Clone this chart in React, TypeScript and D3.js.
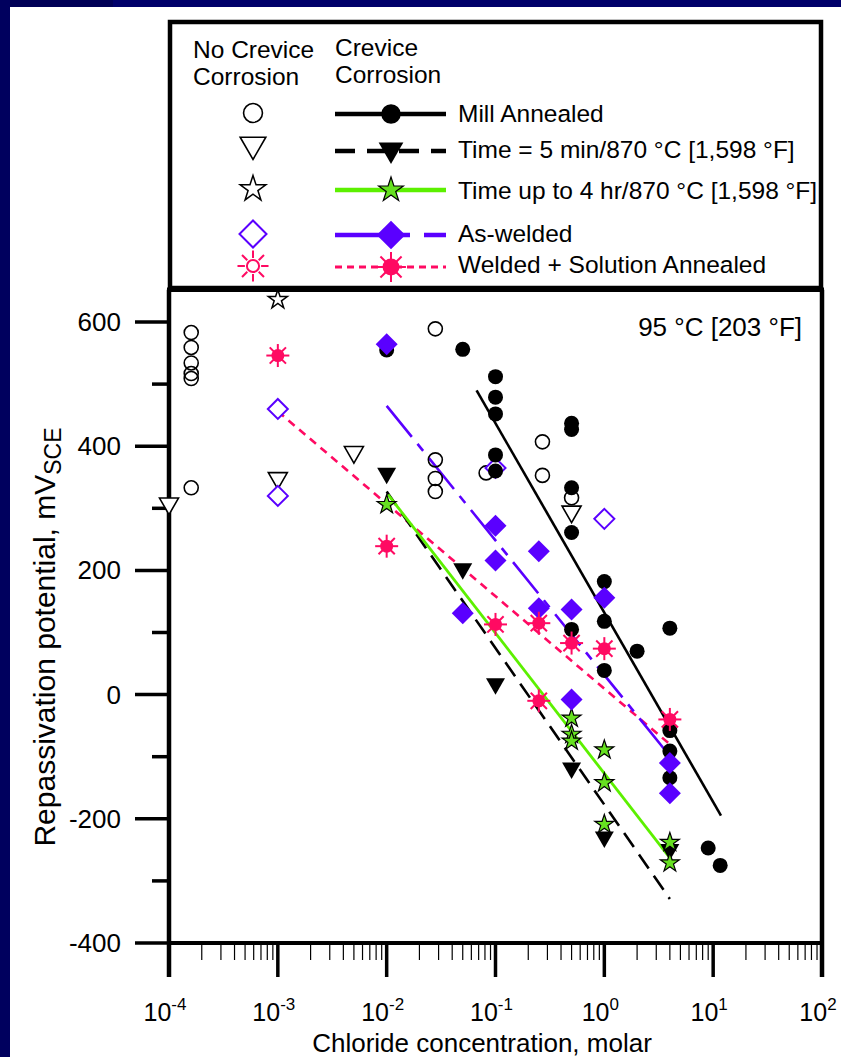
import React from "react";
import * as d3 from "d3";

// Repassivation potential vs chloride concentration, 95 °C
type Pt = [number, number];

const xTickExponents = [-4, -3, -2, -1, 0, 1, 2];
const yTickValues = [-400, -200, 0, 200, 400, 600];
const yMinorValues = [-300, -100, 100, 300, 500];

// No crevice corrosion (open symbols)
const millOpen: Pt[] = [
  [1.6e-4, 583], [1.6e-4, 559], [1.6e-4, 534], [1.6e-4, 517], [1.6e-4, 509], [1.6e-4, 333],
  [0.028, 589], [0.028, 378], [0.028, 348], [0.028, 327],
  [0.082, 357], [0.27, 407], [0.27, 353], [0.5, 317],
];
const fiveMinOpen: Pt[] = [[1e-4, 306], [1e-3, 347], [0.005, 389], [0.5, 293]];
const fourHrOpen: Pt[] = [[1e-3, 636]];
const asWeldedOpen: Pt[] = [[1e-3, 460], [1e-3, 320], [0.1, 365], [1, 283]];

// Crevice corrosion (filled symbols)
const millFilled: Pt[] = [
  [0.01, 555], [0.05, 556],
  [0.1, 512], [0.1, 479], [0.1, 452], [0.1, 386], [0.1, 360],
  [0.5, 437], [0.5, 427], [0.5, 333], [0.5, 261], [0.5, 105],
  [1, 182], [1, 118], [1, 39], [2, 70],
  [4, 107], [4, -58], [4, -91], [4, -134],
  [9, -247], [11.6, -275],
];
const fiveMinFilled: Pt[] = [[0.01, 355], [0.05, 201], [0.1, 16], [0.5, -120], [1, -231], [4, -251]];
const fourHrFilled: Pt[] = [
  [0.01, 306], [0.5, -38], [0.5, -64], [0.5, -75],
  [1, -89], [1, -142], [1, -209], [4, -238], [4, -271],
];
const asWeldedFilled: Pt[] = [
  [0.01, 564], [0.05, 131], [0.1, 272], [0.1, 216], [0.25, 231], [0.25, 139],
  [0.5, 137], [0.5, -8], [1, 156], [4, -110], [4, -159],
];
const solnFilled: Pt[] = [
  [1e-3, 546], [0.01, 239], [0.1, 113], [0.25, 115], [0.25, -10], [0.5, 83], [1, 74], [4, -40],
];

// Regression lines
const millFit: Pt[] = [[0.067, 490], [11.8, -195]];
const fiveMinFit: Pt[] = [[0.01, 327], [4, -329]];
const fourHrFit: Pt[] = [[0.0103, 322], [4, -263]];
const asWeldedFit: Pt[] = [[0.01, 465], [4, -99]];
const solnFit: Pt[] = [[1e-3, 456], [4, -80]];

const legendLabels = [
  "Mill Annealed",
  "Time = 5 min/870 °C [1,598 °F]",
  "Time up to 4 hr/870 °C [1,598 °F]",
  "As-welded",
  "Welded + Solution Annealed",
];

const PURPLE = "#5a00ff";
const PINK = "#ff0a62";
const GREEN_LINE = "#5cf000";
const GREEN_FILL = "#66e020";
const NAVY = "#00006a";
const FONT = "'Liberation Sans', Arial, Helvetica, sans-serif";

const W = 841;
const H = 1057;
const left = 169;
const right = 822;

const x = d3.scaleLog().domain([1e-4, 1e2]).range([left, right]);
const y = d3.scaleLinear().domain([-400, 600]).range([943, 322]);
const plotTop = y(652);
const plotBottom = y(-400);

const starPath = (r: number) => d3.symbol(d3.symbolStar, (r * r) / 0.8908130915292852)()!;

function Marker({ kind, cx, cy, s = 1 }: { kind: string; cx: number; cy: number; s?: number }) {
  const t = `translate(${cx},${cy})`;
  switch (kind) {
    case "circleOpen":
      return <circle cx={cx} cy={cy} r={7 * s} fill="none" stroke="#000" strokeWidth={1.6} />;
    case "circle":
      return <circle cx={cx} cy={cy} r={7.5 * s} fill="#000" />;
    case "triOpen":
      return (
        <path transform={t} d={`M${-9.5 * s},${-6.5 * s}L${9.5 * s},${-6.5 * s}L0,${10 * s}Z`} fill="#fff" stroke="#000" strokeWidth={1.6} />
      );
    case "tri":
      return <path transform={t} d={`M${-9.5 * s},${-6.5 * s}L${9.5 * s},${-6.5 * s}L0,${10 * s}Z`} fill="#000" />;
    case "starOpen":
      return <path transform={t} d={starPath(10 * s)} fill="#fff" stroke="#000" strokeWidth={1.5} />;
    case "star":
      return <path transform={t} d={starPath(10 * s)} fill={GREEN_FILL} stroke="#000" strokeWidth={1.2} />;
    case "diamondOpen":
      return (
        <path transform={t} d={`M0,${-10 * s}L${10 * s},0L0,${10 * s}L${-10 * s},0Z`} fill="#fff" stroke={PURPLE} strokeWidth={2} />
      );
    case "diamond":
      return <path transform={t} d={`M0,${-11 * s}L${11 * s},0L0,${11 * s}L${-11 * s},0Z`} fill={PURPLE} />;
    case "sunOpen":
    case "sun": {
      const filled = kind === "sun";
      const rays = d3.range(8).map((i) => {
        const a = (i * Math.PI) / 4;
        const r0 = filled ? 0 : 6 * s;
        const r1 = 11.5 * s;
        return (
          <line key={i} x1={r0 * Math.cos(a)} y1={r0 * Math.sin(a)} x2={r1 * Math.cos(a)} y2={r1 * Math.sin(a)} stroke={PINK} strokeWidth={2} />
        );
      });
      return (
        <g transform={t}>
          {rays}
          {filled ? (
            <circle r={6.5 * s} fill={PINK} />
          ) : (
            <circle r={4.5 * s} fill="#fff" stroke={PINK} strokeWidth={2} />
          )}
        </g>
      );
    }
    default:
      return null;
  }
}

function Series({ data, kind }: { data: Pt[]; kind: string }) {
  return (
    <g>
      {data.map((d, i) => (
        <Marker key={i} kind={kind} cx={x(d[0])} cy={y(d[1])} />
      ))}
    </g>
  );
}

const lineGen = d3
  .line<Pt>()
  .x((d) => x(d[0]))
  .y((d) => y(d[1]));

const fits = [
  { data: solnFit, stroke: PINK, width: 2.6, dash: "8 6" },
  { data: asWeldedFit, stroke: PURPLE, width: 2.6, dash: "40 9 9 9" },
  { data: fiveMinFit, stroke: "#000", width: 2.6, dash: "17 9" },
  { data: fourHrFit, stroke: GREEN_LINE, width: 2.8, dash: undefined as string | undefined },
  { data: millFit, stroke: "#000", width: 2.6, dash: undefined as string | undefined },
];

export default function App() {
  const minorX: number[] = [];
  for (let e = -4; e < 2; e++) for (let m = 2; m <= 9; m++) minorX.push(m * Math.pow(10, e));

  const legendRows = [
    { open: "circleOpen", filled: "circle", stroke: "#000", dash: undefined as string | undefined, width: 4.5, cy: 113, base: 122 },
    { open: "triOpen", filled: "tri", stroke: "#000", dash: "20 12", width: 4.5, cy: 150, base: 158 },
    { open: "starOpen", filled: "star", stroke: GREEN_LINE, dash: undefined, width: 4.5, cy: 189, base: 199 },
    { open: "diamondOpen", filled: "diamond", stroke: PURPLE, dash: "75 14 22 0", width: 4.5, cy: 234, base: 242 },
    { open: "sunOpen", filled: "sun", stroke: PINK, dash: "7 5", width: 3, cy: 266, base: 273 },
  ];

  return (
    <svg
      width={W}
      height={H}
      viewBox={`0 0 ${W} ${H}`}
      style={{ position: "absolute", left: 0, top: 0, display: "block" }}
      fontFamily={FONT}
    >
      <rect width={W} height={H} fill="#fff" />
      <rect x={0} y={0} width={W} height={7} fill={NAVY} />
      <rect x={0} y={0} width={113} height={7} fill="#000056" />
      <rect x={0} y={0} width={10} height={H} fill="#00005e" />

      {/* legend box */}
      <rect x={170} y={22} width={651} height={266} fill="none" stroke="#000" strokeWidth={4.5} />
      <g fontSize={24.5} fill="#000">
        <text x={193} y={58}>No Crevice</text>
        <text x={193} y={85}>Corrosion</text>
        <text x={335} y={56}>Crevice</text>
        <text x={335} y={83}>Corrosion</text>
        {legendRows.map((r, i) => (
          <g key={i}>
            <line x1={335} x2={446} y1={r.cy + 1} y2={r.cy + 1} stroke={r.stroke} strokeWidth={r.width} strokeDasharray={r.dash} />
            <Marker kind={r.open} cx={253} cy={r.cy - (i === 1 ? 4 : 0)} s={1.35} />
            <Marker kind={r.filled} cx={391} cy={r.cy + 1} s={1.3} />
            <text x={458} y={r.base}>{legendLabels[i]}</text>
          </g>
        ))}
      </g>

      {/* plot frame */}
      <line x1={left - 2} x2={right + 2} y1={plotTop} y2={plotTop} stroke="#000" strokeWidth={4.5} />
      <line x1={right} x2={right} y1={plotTop} y2={977} stroke="#000" strokeWidth={4.5} />
      <line x1={left} x2={left} y1={plotTop} y2={977} stroke="#000" strokeWidth={4.5} />
      <line x1={left} x2={right} y1={plotBottom} y2={plotBottom} stroke="#000" strokeWidth={4} />

      {/* x ticks */}
      {minorX.map((v, i) => (
        <line key={i} x1={x(v)} x2={x(v)} y1={plotBottom} y2={960} stroke="#000" strokeWidth={1.2} />
      ))}
      {xTickExponents.map((e) => (
        <g key={e}>
          <line x1={x(Math.pow(10, e))} x2={x(Math.pow(10, e))} y1={plotBottom} y2={977} stroke="#000" strokeWidth={3.5} />
          <text x={x(Math.pow(10, e)) - 4} y={1021} fontSize={25} textAnchor="middle">
            10
            <tspan fontSize={17} dy={-11}>{e}</tspan>
          </text>
        </g>
      ))}

      {/* y ticks */}
      {yMinorValues.map((v) => (
        <line key={v} x1={152} x2={left} y1={y(v)} y2={y(v)} stroke="#000" strokeWidth={3.5} />
      ))}
      {yTickValues.map((v) => (
        <g key={v}>
          <line x1={135} x2={left} y1={y(v)} y2={y(v)} stroke="#000" strokeWidth={3.5} />
          <text x={121} y={y(v) + 9} fontSize={26} textAnchor="end">{v}</text>
        </g>
      ))}

      {/* axis titles */}
      <text x={482} y={1052} fontSize={26} textAnchor="middle">Chloride concentration, molar</text>
      <text transform={`translate(55,${637}) rotate(-90)`} fontSize={30} textAnchor="middle">
        Repassivation potential, mV
        <tspan fontSize={23} dy={6}>SCE</tspan>
      </text>
      <text x={802} y={336} fontSize={26} textAnchor="end">95 °C [203 °F]</text>

      {/* regression lines */}
      {fits.map((f, i) => (
        <path key={i} d={lineGen(f.data)!} fill="none" stroke={f.stroke} strokeWidth={f.width} strokeDasharray={f.dash} />
      ))}

      {/* data */}
      <Series data={millOpen} kind="circleOpen" />
      <Series data={fiveMinOpen} kind="triOpen" />
      <Series data={fourHrOpen} kind="starOpen" />
      <Series data={asWeldedOpen} kind="diamondOpen" />
      <Series data={millFilled} kind="circle" />
      <Series data={fiveMinFilled} kind="tri" />
      <Series data={fourHrFilled} kind="star" />
      <Series data={asWeldedFilled} kind="diamond" />
      <Series data={solnFilled} kind="sun" />
    </svg>
  );
}
